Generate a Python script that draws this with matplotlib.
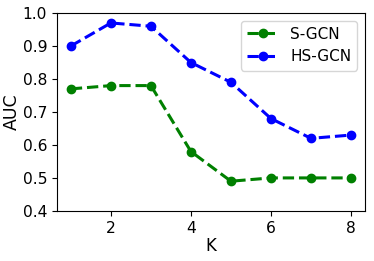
import matplotlib
matplotlib.use("Agg")
import matplotlib.pyplot as plt

K = [1, 2, 3, 4, 5, 6, 7, 8]
s_gcn = [0.77, 0.78, 0.78, 0.58, 0.49, 0.50, 0.50, 0.50]
hs_gcn = [0.90, 0.97, 0.96, 0.85, 0.79, 0.68, 0.62, 0.63]

fig = plt.figure(figsize=(3.74, 2.61), dpi=100)
ax = fig.add_axes([0.152, 0.192, 0.824, 0.758])
ax.plot(K, s_gcn, '--o', color='green', lw=2.2, ms=6, label='S-GCN')
ax.plot(K, hs_gcn, '--o', color='blue', lw=2.2, ms=6, label='HS-GCN')
ax.set_ylim(0.4, 1.0)
ax.set_xlim(0.65, 8.35)
ax.set_xticks([2, 4, 6, 8])
ax.set_yticks([0.4, 0.5, 0.6, 0.7, 0.8, 0.9, 1.0])
ax.tick_params(labelsize=11.2)
ax.set_xlabel('K', fontsize=12, labelpad=1)
ax.set_ylabel('AUC', fontsize=12.5)
ax.yaxis.set_label_coords(-0.118, 0.5)
ax.legend(fontsize=11, loc='upper right')
fig.savefig('out.png', dpi=100)
